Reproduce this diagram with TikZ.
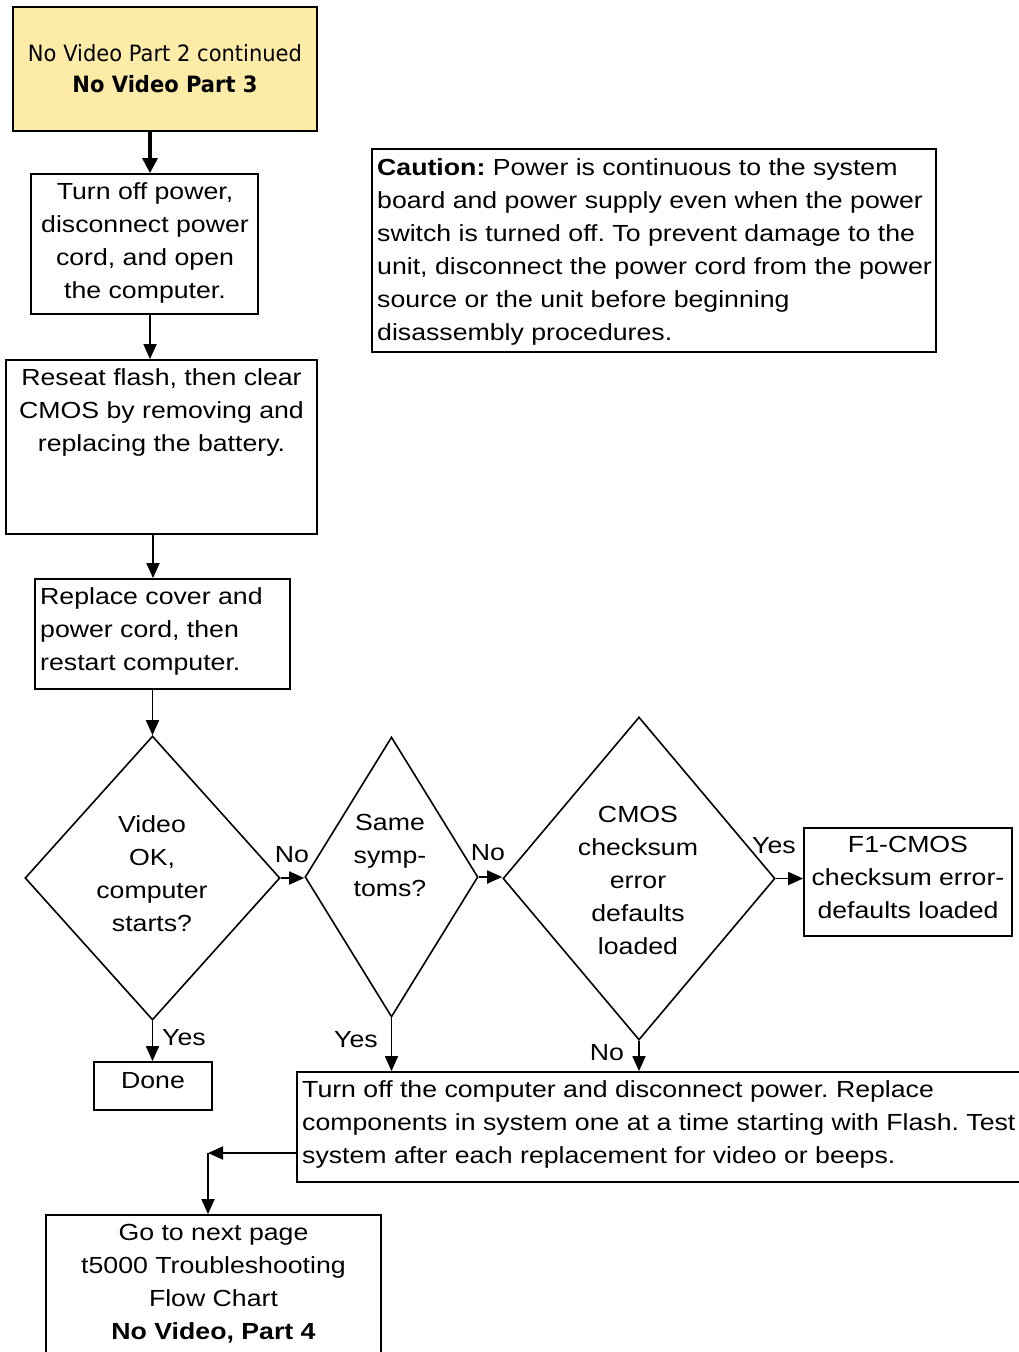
\documentclass[tikz,border=0pt]{standalone}
\usepackage{fontspec}
\setmainfont{Liberation Sans}[FakeStretch=1.145]
\newfontfamily\headfont{DejaVu Sans}[FakeStretch=0.935]
\usetikzlibrary{shapes.geometric,arrows.meta}
\definecolor{notepad}{RGB}{252,236,168}
\frenchspacing

\tikzset{
  box/.style={draw, line width=1.8pt, rectangle, inner sep=0pt},
  dia/.style={draw, line width=1.6pt, diamond, inner sep=0pt},
  txt/.style={font=\fontsize{23.3}{33}\selectfont, inner sep=0pt, align=center},
  ltxt/.style={txt, align=left, anchor=west},
  lbl/.style={font=\fontsize{23.3}{33}\selectfont, inner sep=0pt},
  arr/.style={line width=1.8pt, -{Triangle[length=15pt,width=13pt]}},
  bigarr/.style={line width=3.2pt, -{Triangle[length=15pt,width=15pt]}},
}

\begin{document}
\begin{tikzpicture}[x=1pt,y=-1pt]
\useasboundingbox (0,0) rectangle (1019,1352);

% boxes and decisions
\node[box, fill=notepad, minimum width=304pt, minimum height=124pt] (head) at (165,69) {};
\node[box, minimum width=227pt, minimum height=140pt] (off) at (144.5,244) {};
\node[box, minimum width=311pt, minimum height=174pt] (reseat) at (161.5,447) {};
\node[box, minimum width=255pt, minimum height=110pt] (cover) at (162.5,634) {};
\node[dia, minimum width=255pt, minimum height=284pt] (ok) at (152.5,878) {};
\node[dia, minimum width=173pt, minimum height=280pt] (same) at (391.5,877) {};
\node[dia, minimum width=272pt, minimum height=323pt] (cmos) at (639,878.5) {};
\node[box, minimum width=208pt, minimum height=108pt] (f1) at (908,882) {};
\node[box, minimum width=118pt, minimum height=48pt] (done) at (153,1086) {};
\node[box, minimum width=743pt, minimum height=110pt] (swap) at (668.5,1127) {};
\node[box, minimum width=335pt, minimum height=150pt] (next) at (213.5,1290) {};
\node[box, minimum width=564pt, minimum height=203pt] (caution) at (654,250.5) {};

% texts
\node[txt, font=\headfont\fontsize{22.5}{31}\selectfont] (head-t) at (165,68.5)
  {No Video Part 2 continued\\\textbf{No Video Part 3}};
\node[txt] (off-t) at (145,242.5) {Turn off power,\\disconnect power\\cord, and open\\the computer.};
\node[txt] (reseat-t) at (161.5,412.5) {Reseat flash, then clear\\CMOS by removing and\\replacing the battery.};
\node[ltxt] (cover-t) at (40,631.5) {Replace cover and\\power cord, then\\restart computer.};
\node[txt] (ok-t) at (152,873.5) {Video\\OK,\\computer\\starts?};
\node[txt] (same-t) at (390,855) {Same\\symp-\\toms?};
\node[txt] (cmos-t) at (638,880) {CMOS\\checksum\\error\\defaults\\loaded};
\node[txt] (f1-t) at (908,877) {F1-CMOS\\checksum error-\\defaults loaded};
\node[txt] (done-t) at (153,1080.3) {Done};
\node[ltxt] (swap-t) at (302,1124.5) {Turn off the computer and disconnect power. Replace\\components in system one at a time starting with Flash. Test\\system after each replacement for video or beeps.};
\node[txt] (next-t) at (213.5,1284) {Go to next page\\t5000 Troubleshooting\\Flow Chart\\\textbf{No Video, Part 4}};
\node[ltxt] (caution-t) at (377,252) {\textbf{Caution:} Power is continuous to the system\\board and power supply even when the power\\switch is turned off. To prevent damage to the\\unit, disconnect the power cord from the power\\source or the unit before beginning\\disassembly procedures.};

% connectors
\draw[bigarr] (150,0 |- head.south) -- (150,0 |- off.north);
\draw[arr] (150,0 |- off.south) -- (150,0 |- reseat.north);
\draw[arr] (153,0 |- reseat.south) -- (153,0 |- cover.north);
\draw[arr] (152.5,0 |- cover.south) -- (ok.north);
\draw[arr] (ok.east) -- (ok.east -| same.west);
\draw[arr] (same.east) -- (same.east -| cmos.west);
\draw[arr] (cmos.east) -- (cmos.east -| f1.west);
\draw[arr] (ok.south) -- (ok.south |- done.north);
\draw[arr] (same.south) -- (same.south |- swap.north);
\draw[arr] (cmos.south) -- (cmos.south |- swap.north);
\coordinate (turn) at (208,1153);
\draw[arr] (swap.west |- turn) -- (turn);
\draw[arr] (turn) -- (turn |- next.north);

% branch labels
\node[lbl] (no1) at (292,855) {No};
\node[lbl] (no2) at (488,853) {No};
\node[lbl] (yes3) at (774,846) {Yes};
\node[lbl] (yes1) at (184,1038) {Yes};
\node[lbl] (yes2) at (356,1040) {Yes};
\node[lbl] (no3) at (607,1053) {No};
\end{tikzpicture}
\end{document}
